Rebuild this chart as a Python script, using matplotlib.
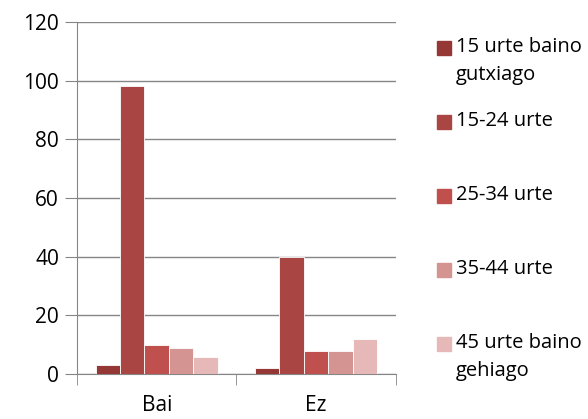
import numpy as np
import matplotlib.pyplot as plt
from matplotlib.patches import Rectangle

plt.rcParams['font.family'] = ['Open Sans', 'DejaVu Sans']

categories = ['Bai', 'Ez']
series_labels = ['15 urte baino\ngutxiago', '15-24 urte', '25-34 urte', '35-44 urte',
                 '45 urte baino\ngehiago']
values = [
    [3, 2],
    [98, 40],
    [10, 8],
    [9, 8],
    [6, 12],
]
colors = ['#953735', '#A94543', '#C0504D', '#D39492', '#E6B9B8']

fig = plt.figure(figsize=(5.88, 4.19), dpi=100)
ax = fig.add_axes([0.131, 0.107, 0.542, 0.841])

x = np.arange(len(categories))
n = len(series_labels)
group_w = 0.766
bw = group_w / n
for i, (vals, c) in enumerate(zip(values, colors)):
    ax.bar(x - group_w / 2 + bw * (i + 0.5), vals, width=bw, color=c,
           edgecolor='white', linewidth=0.6, zorder=3)

ax.set_xlim(-0.5, len(categories) - 0.5)
ax.set_ylim(0, 120)
ax.set_yticks(range(0, 121, 20))
ax.grid(axis='y', color='#868686', linewidth=1, zorder=0)
for s in ['top', 'right']:
    ax.spines[s].set_visible(False)
for s in ['left', 'bottom']:
    ax.spines[s].set_color('#868686')
ax.tick_params(axis='y', length=9, color='#868686', labelsize=15, pad=4)
ax.set_xticks(x)
ax.set_xticklabels(categories, fontsize=15)
ax.tick_params(axis='x', length=0, pad=15)
# category boundary ticks
ax.set_xticks(np.arange(len(categories) + 1) - 0.5, minor=True)
ax.tick_params(axis='x', which='minor', length=8, color='#868686')

# legend, drawn manually to keep Excel-like spacing
top_y = 1 - 48 / 419
step = 74 / 419
for i, (lab, c) in enumerate(zip(series_labels, colors)):
    yy = top_y - i * step
    fig.add_artist(Rectangle((437 / 588, yy - 7 / 419), 14 / 588, 14 / 419,
                             transform=fig.transFigure, color=c))
    fig.text(456 / 588, yy + 11 / 419, lab, fontsize=14.5, va='top', ha='left',
             linespacing=1.5, transform=fig.transFigure)

fig.savefig('out.png', dpi=100)
